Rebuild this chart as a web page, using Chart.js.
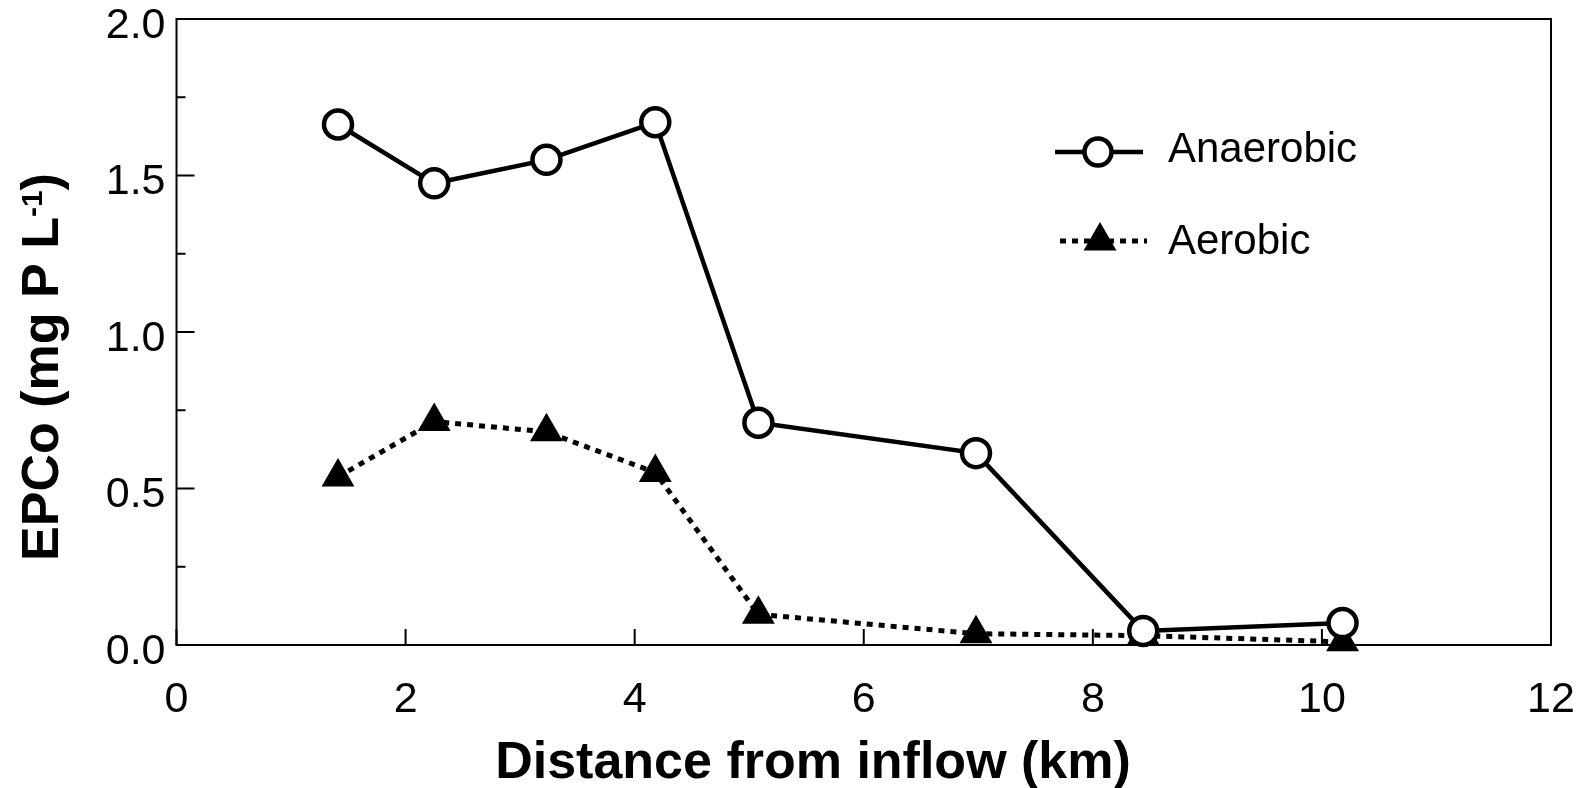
<!DOCTYPE html>
<html>
<head>
<meta charset="utf-8">
<script src="https://cdn.jsdelivr.net/npm/chart.js@4.4.0/dist/chart.umd.min.js"></script>
<style>
  html, body { margin: 0; padding: 0; background: #fff; }
</style>
</head>
<body>
<canvas id="myChart" width="1590" height="788"></canvas>
<script>
// values
const distance = [1.41, 2.25, 3.23, 4.18, 5.08, 6.98, 8.44, 10.18];
const anaerobic = [1.663, 1.475, 1.55, 1.67, 0.71, 0.613, 0.045, 0.07];
const aerobic = [0.537, 0.714, 0.681, 0.551, 0.098, 0.036, 0.03, 0.01];
const seriesNames = ['Anaerobic', 'Aerobic'];
const xTicks = [0, 2, 4, 6, 8, 10, 12];
const yTicks = [0, 0.5, 1.0, 1.5, 2.0];
const yMinorTicks = [0.25, 0.75, 1.25, 1.75];
const xTitle = 'Distance from inflow (km)';
const yTitle = ['EPCo (mg P L', '-1', ')'];

const FONT = '"Liberation Sans", Arial, Helvetica, sans-serif';

// frame, inward ticks, axis titles and legend
const decorations = {
    id: 'decorations',
    beforeDatasetsDraw(chart) {
        const { ctx, chartArea: a, scales } = chart;
        ctx.save();
        ctx.strokeStyle = '#000';
        ctx.lineWidth = 2;
        ctx.strokeRect(a.left, a.top, a.right - a.left, a.bottom - a.top);

        ctx.beginPath();
        xTicks.forEach(v => {
            const px = scales.x.getPixelForValue(v);
            ctx.moveTo(px, a.bottom);
            ctx.lineTo(px, a.bottom - 16);
        });
        yTicks.forEach(v => {
            const py = scales.y.getPixelForValue(v);
            ctx.moveTo(a.left, py);
            ctx.lineTo(a.left + 18, py);
        });
        yMinorTicks.forEach(v => {
            const py = scales.y.getPixelForValue(v);
            ctx.moveTo(a.left, py);
            ctx.lineTo(a.left + 9, py);
        });
        ctx.stroke();
        ctx.restore();
    },
    afterDraw(chart) {
        const { ctx } = chart;
        ctx.save();
        ctx.fillStyle = '#000';

        // x title
        ctx.font = 'bold 52px ' + FONT;
        ctx.textAlign = 'center';
        ctx.textBaseline = 'alphabetic';
        ctx.fillText(xTitle, 813, 778);

        // y title, rotated, with superscript
        ctx.translate(58, 367);
        ctx.rotate(-Math.PI / 2);
        ctx.textAlign = 'left';
        ctx.font = 'bold 52px ' + FONT;
        const w0 = ctx.measureText(yTitle[0]).width;
        const w2 = ctx.measureText(yTitle[2]).width;
        ctx.font = 'bold 30px ' + FONT;
        const w1 = ctx.measureText(yTitle[1]).width;
        let x0 = -(w0 + w1 + w2) / 2;
        ctx.font = 'bold 52px ' + FONT;
        ctx.fillText(yTitle[0], x0, 0);
        ctx.font = 'bold 30px ' + FONT;
        ctx.fillText(yTitle[1], x0 + w0, -16);
        ctx.font = 'bold 52px ' + FONT;
        ctx.fillText(yTitle[2], x0 + w0 + w1, 0);
        ctx.restore();

        // legend
        ctx.save();
        ctx.strokeStyle = '#000';
        ctx.fillStyle = '#000';
        ctx.lineCap = 'butt';

        ctx.lineWidth = 4.5;
        ctx.beginPath();
        ctx.moveTo(1055, 152);
        ctx.lineTo(1143, 152);
        ctx.stroke();
        ctx.beginPath();
        ctx.arc(1098, 152, 13.5, 0, Math.PI * 2);
        ctx.fillStyle = '#fff';
        ctx.fill();
        ctx.stroke();

        ctx.lineWidth = 5;
        ctx.setLineDash([6, 6]);
        ctx.beginPath();
        ctx.moveTo(1060, 241);
        ctx.lineTo(1147, 241);
        ctx.stroke();
        ctx.setLineDash([]);
        ctx.lineWidth = 2;
        ctx.fillStyle = '#000';
        const r = 17, cx = 1100, cy = 241;
        ctx.beginPath();
        for (let k = 0; k < 3; k++) {
            const ang = k * 2 * Math.PI / 3;
            const px = cx + Math.sin(ang) * r, py = cy - Math.cos(ang) * r;
            if (k === 0) ctx.moveTo(px, py); else ctx.lineTo(px, py);
        }
        ctx.closePath();
        ctx.fill();
        ctx.stroke();

        ctx.font = '42px ' + FONT;
        ctx.textAlign = 'left';
        ctx.textBaseline = 'alphabetic';
        ctx.fillText(seriesNames[0], 1168, 162);
        ctx.fillText(seriesNames[1], 1168, 254);
        ctx.restore();
    }
};

const ctx = document.getElementById('myChart').getContext('2d');
new Chart(ctx, {
    type: 'line',
    data: {
        datasets: [{
            label: seriesNames[0],
            data: distance.map((x, i) => ({ x: x, y: anaerobic[i] })),
            borderColor: '#000',
            borderWidth: 4.5,
            pointStyle: 'circle',
            pointRadius: 14,
            pointBorderWidth: 4.5,
            pointBorderColor: '#000',
            pointBackgroundColor: '#fff',
            tension: 0,
            clip: false
        }, {
            label: seriesNames[1],
            data: distance.map((x, i) => ({ x: x, y: aerobic[i] })),
            borderColor: '#000',
            borderWidth: 5,
            borderDash: [6, 6],
            pointStyle: 'triangle',
            pointRadius: 17,
            pointBorderWidth: 2,
            pointBorderColor: '#000',
            pointBackgroundColor: '#000',
            tension: 0,
            clip: false
        }]
    },
    options: {
        responsive: false,
        animation: false,
        devicePixelRatio: 1,
        layout: { padding: { top: 19, right: 39, left: 0, bottom: 0 } },
        plugins: {
            legend: { display: false },
            tooltip: { enabled: false }
        },
        scales: {
            x: {
                type: 'linear',
                min: 0,
                max: 12,
                afterFit: (scale) => {
                    scale.height = 143;
                    scale.paddingLeft = 0;
                    scale.paddingRight = 0;
                },
                afterBuildTicks: (scale) => { scale.ticks = xTicks.map(v => ({ value: v })); },
                ticks: {
                    color: '#000',
                    font: { family: FONT, size: 43 },
                    padding: 29,
                    maxRotation: 0,
                    callback: (v) => String(v)
                },
                grid: { display: false, drawTicks: false },
                border: { display: false }
            },
            y: {
                min: 0,
                max: 2,
                afterFit: (scale) => {
                    scale.width = 176.5;
                    scale.paddingTop = 0;
                    scale.paddingBottom = 0;
                },
                afterBuildTicks: (scale) => { scale.ticks = yTicks.map(v => ({ value: v })); },
                ticks: {
                    color: '#000',
                    font: { family: FONT, size: 43 },
                    padding: 11,
                    labelOffset: 7,
                    callback: (v) => Number(v).toFixed(1)
                },
                grid: { display: false, drawTicks: false },
                border: { display: false }
            }
        }
    },
    plugins: [decorations]
});
</script>
</body>
</html>
